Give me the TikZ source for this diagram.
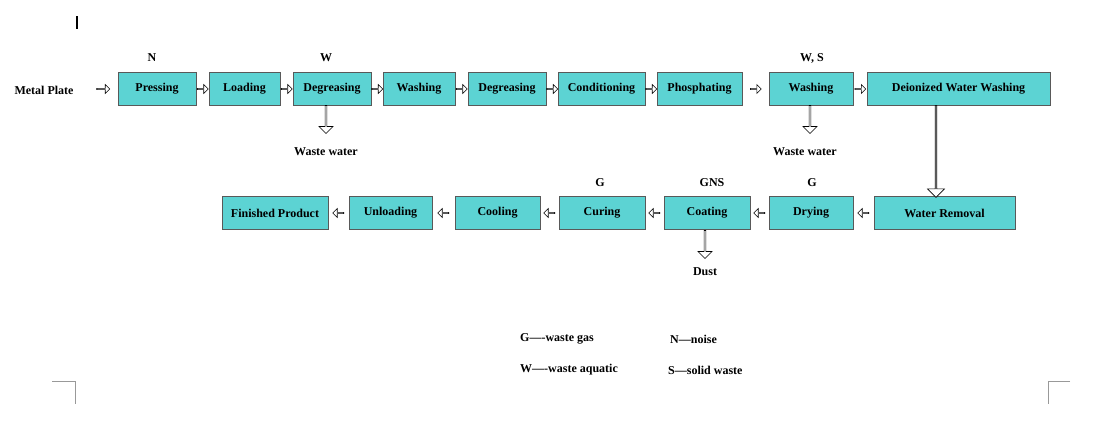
\documentclass[tikz,border=0pt]{standalone}
\usepackage{fontspec}
\setmainfont{Liberation Serif}
\usetikzlibrary{shapes.arrows}
\definecolor{boxc}{HTML}{5CD3D3}
\begin{document}
\begin{tikzpicture}[x=1pt,y=-1pt,
  every node/.style={font=\fontsize{12}{14}\selectfont\bfseries},
  box/.style={draw=gray!70!black, fill=boxc, inner sep=0, minimum height=33},
  lab/.style={inner sep=0},
  ha/.style={single arrow, draw=black, fill=white, inner sep=0, minimum width=9, single arrow head extend=2, minimum height=#1, line width=0.6pt},
  corner/.style={draw=gray!80, line width=0.6pt}]
\useasboundingbox (0,0) rectangle (1109,432);
% row 1
\foreach \n/\a/\b/\t in {p1/118/196/Pressing, p2/209/280/Loading, p3/293/371/Degreasing, p4/383/455/Washing, p5/468/546/Degreasing, p6/558/645/Conditioning, p7/657/742/Phosphating, p8/769/853/Washing, p9/867/1050/Deionized Water Washing}
  \node[box, minimum width=\b-\a] (\n) at ({(\a+\b)/2},89) {\t};
% row 2
\foreach \n/\a/\b/\t in {q1/222/328/Finished Product, q2/349/432/Unloading, q3/455/540/Cooling, q4/559/645/Curing, q5/664/750/Coating, q6/769/853/Drying, q7/874/1015/Water Removal}
  \node[box, minimum width=\b-\a] (\n) at ({(\a+\b)/2},213) {\t};
\node[lab] (mp) at (44,90) {Metal Plate};
\coordinate (mpe) at (110,89);
\node[ha=13] at (103,89) {};
% row1 arrows
\foreach \x/\y in {p1/p2,p2/p3,p3/p4,p4/p5,p5/p6,p6/p7,p7/p8,p8/p9}
  \path (\x.east) -- node[ha=11, pos=0.5]{} (\y.west);
% row2 arrows (leftward)
\foreach \x/\y in {q7/q6,q6/q5,q5/q4,q4/q3,q3/q2,q2/q1}
  \path (\x.west) -- node[ha=11, pos=0.5, shape border rotate=180]{} (\y.east);
% down arrows
\node[lab] (ww1) at (326,152) {Waste water};
\node[lab] (ww2) at (805,152) {Waste water};
\node[lab] (dust) at (705,272) {Dust};
\node[ha=28, shape border rotate=270, minimum width=14] at (326,119) {};
\node[ha=28, shape border rotate=270, minimum width=14] at (810,119) {};
\node[ha=28, shape border rotate=270, minimum width=14] at (705,244) {};
\node[ha=92, shape border rotate=270, minimum width=17, single arrow head extend=3] at (936,151) {};
% emission labels
\node[lab] (ln) at (152,58) {N};
\node[lab] (lw) at (326,58) {W};
\node[lab] (lws) at (812,58) {W, S};
\node[lab] (lg1) at (600,183) {G};
\node[lab] (lgns) at (712,183) {GNS};
\node[lab] (lg2) at (812,183) {G};
% legend
\node[lab, anchor=west] (lega) at (520,339) {G----waste gas};
\node[lab, anchor=west] (legb) at (670,339) {N---noise};
\node[lab, anchor=west] (legc) at (520,370) {W----waste aquatic};
\node[lab, anchor=west] (legd) at (668,370) {S---solid waste};
% page marks
\draw[line width=1.2pt] (77,16) -- (77,29);
\draw[corner] (52,381) -- (75,381) -- (75,404);
\draw[corner] (1070,381) -- (1048,381) -- (1048,404);
\end{tikzpicture}
\end{document}
